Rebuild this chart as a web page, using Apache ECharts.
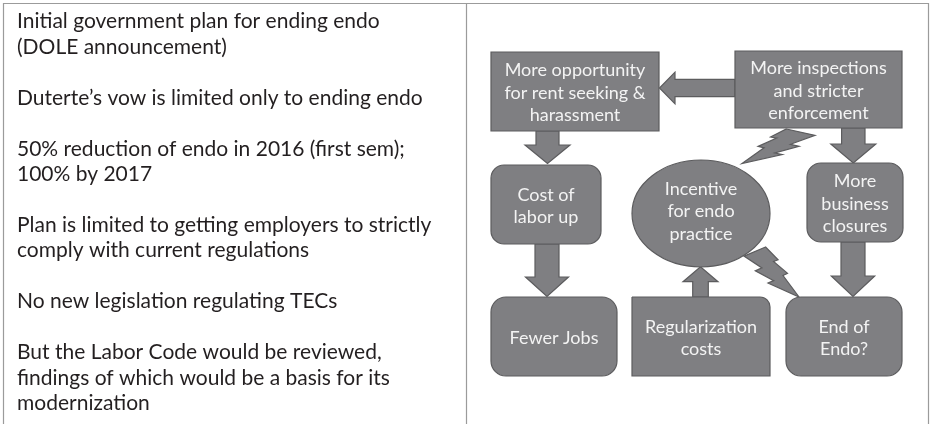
<!DOCTYPE html>
<html>
<head>
<meta charset="utf-8">
<script src="https://cdn.jsdelivr.net/npm/echarts@6/dist/echarts.min.js"></script>
<style>
html,body{margin:0;padding:0;background:#fff;}
#chart{width:930px;height:424px;}
</style>
</head>
<body>
<div id="chart"></div>
<script>
// ---- content ----
const leftLines = [
  'Initial government plan for ending endo',
  '(DOLE announcement)',
  '',
  'Duterte\u2019s vow is limited only to ending endo',
  '',
  '50% reduction of endo in 2016 (first sem);',
  '100% by 2017',
  '',
  'Plan is limited to getting employers to strictly',
  'comply with current regulations',
  '',
  'No new legislation regulating TECs',
  '',
  'But the Labor Code would be reviewed,',
  'findings of which would be a basis for its',
  'modernization'
];
const boxNames = ['rent', 'inspect', 'cost', 'jobs', 'regular', 'endOf', 'closures'];
const boxLabels = [
  'More opportunity\nfor rent seeking &\nharassment',
  'More inspections\nand stricter\nenforcement',
  'Cost of\nlabor up',
  'Fewer Jobs',
  'Regularization\ncosts',
  'End of\nEndo?',
  'More\nbusiness\nclosures'
];
const circleLabel = 'Incentive\nfor endo\npractice';

// ---- layout (positions/styles only) ----
const FILL = '#7f7f82', STROKE = '#5c5c5e', TXT = '#f3f3f3';
const boxGeom = {
  rent:     {x: 491, y: 52,  w: 168, h: 79, r: 0},
  inspect:  {x: 735, y: 51,  w: 167, h: 77, r: 0},
  cost:     {x: 491, y: 165, w: 110, h: 79, r: 13},
  jobs:     {x: 491, y: 297, w: 126, h: 79, r: 15},
  regular:  {x: 632, y: 297, w: 138, h: 79, r: [0, 10, 0, 0]},
  endOf:    {x: 786, y: 297, w: 116, h: 79, r: 15},
  closures: {x: 807, y: 163, w: 96,  h: 79, r: 14}
};
const ell = {cx: 701, cy: 213.5, rx: 69, ry: 53.5};

function downArrow(cx, yTop, yBase, yTip, sh, hh) {
  return [[cx - sh, yTop], [cx + sh, yTop], [cx + sh, yBase], [cx + hh, yBase],
          [cx, yTip], [cx - hh, yBase], [cx - sh, yBase]];
}
function upArrow(cx, yBot, yBase, yTip, sh, hh) {
  return [[cx - sh, yBot], [cx + sh, yBot], [cx + sh, yBase], [cx + hh, yBase],
          [cx, yTip], [cx - hh, yBase], [cx - sh, yBase]];
}
function leftArrow(cy, xRight, xBase, xTip, sh, hh) {
  return [[xRight, cy - sh], [xRight, cy + sh], [xBase, cy + sh], [xBase, cy + hh],
          [xTip, cy], [xBase, cy - hh], [xBase, cy - sh]];
}

const elements = [];
// table borders
const BC = '#9b9b9b';
elements.push({type: 'line', shape: {x1: 3, y1: 3.5, x2: 929, y2: 3.5}, style: {stroke: BC, lineWidth: 1.2}});
elements.push({type: 'line', shape: {x1: 3.5, y1: 3, x2: 3.5, y2: 424}, style: {stroke: BC, lineWidth: 1.2}});
elements.push({type: 'line', shape: {x1: 466.5, y1: 3, x2: 466.5, y2: 424}, style: {stroke: BC, lineWidth: 1.2}});
elements.push({type: 'line', shape: {x1: 928.5, y1: 3, x2: 928.5, y2: 424}, style: {stroke: BC, lineWidth: 1.2}});

// left text
leftLines.forEach(function (t, i) {
  if (!t) return;
  elements.push({type: 'text', x: 17, y: 21.5 + 25.45 * i,
    style: {text: t, font: '21px Lato', fill: '#231f20', align: 'left', verticalAlign: 'middle'}});
});

const shapeStyle = {fill: FILL, stroke: STROKE, lineWidth: 1.2};
// lightning bolts
elements.push({type: 'polygon', shape: {points: [[786.4, 129], [815, 135.3], [790.5, 144.3], [799.1, 146.3],
  [774.8, 153], [782.3, 154.6], [742, 163.5], [764.1, 147.8], [758.1, 146.4], [776.7, 138.1], [770.6, 137]]}, style: shapeStyle});
elements.push({type: 'polygon', shape: {points: [[765.6, 247], [744, 256.1], [761.9, 267.9], [755.3, 270.9],
  [773.7, 280.6], [768, 283], [799, 297], [783, 275.5], [787.5, 273.4], [773.5, 261.5], [778.1, 259.8]]}, style: shapeStyle});

// arrows
elements.push({type: 'polygon', shape: {points: downArrow(547.5, 131, 145, 163.5, 11.5, 22.5)}, style: shapeStyle});
elements.push({type: 'polygon', shape: {points: downArrow(547, 244, 277, 296.5, 12, 21.5)}, style: shapeStyle});
elements.push({type: 'polygon', shape: {points: downArrow(853.3, 128, 144, 163, 11.7, 22.5)}, style: shapeStyle});
elements.push({type: 'polygon', shape: {points: downArrow(853, 242, 276, 296.5, 12, 21.7)}, style: shapeStyle});
elements.push({type: 'polygon', shape: {points: upArrow(700.5, 297, 281.7, 266.7, 7.8, 17.5)}, style: shapeStyle});
elements.push({type: 'polygon', shape: {points: leftArrow(88, 735, 675, 659.5, 8.7, 15.8)}, style: shapeStyle});

// boxes
boxNames.forEach(function (n, i) {
  const g = boxGeom[n];
  elements.push({type: 'rect', shape: {x: g.x, y: g.y, width: g.w, height: g.h, r: g.r}, style: shapeStyle});
  elements.push({type: 'text', x: g.x + g.w / 2, y: g.y + g.h / 2 + 1.5,
    style: {text: boxLabels[i], font: '18px Lato', fill: TXT, align: 'center', verticalAlign: 'middle', lineHeight: 22.5}});
});
// ellipse
elements.push({type: 'ellipse', shape: {cx: ell.cx, cy: ell.cy, rx: ell.rx, ry: ell.ry}, style: shapeStyle});
elements.push({type: 'text', x: ell.cx, y: ell.cy - 2,
  style: {text: circleLabel, font: '18px Lato', fill: TXT, align: 'center', verticalAlign: 'middle', lineHeight: 22.5}});

const chart = echarts.init(document.getElementById('chart'), null, {renderer: 'canvas'});
chart.setOption({
  backgroundColor: '#ffffff',
  animation: false,
  graphic: {elements: elements}
});
</script>
</body>
</html>
